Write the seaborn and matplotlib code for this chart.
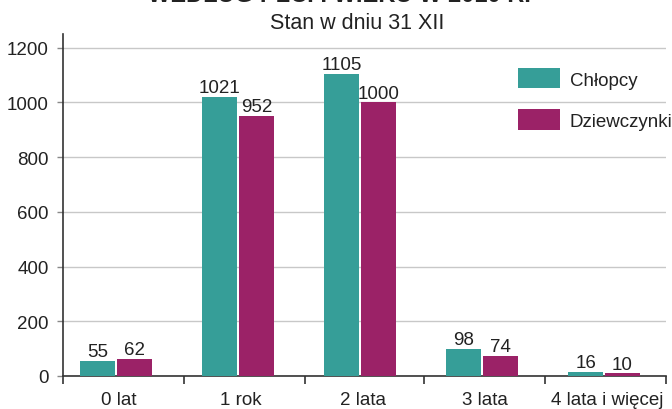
import matplotlib
matplotlib.use("Agg")
import matplotlib.pyplot as plt
import matplotlib.transforms as mtransforms
import seaborn as sns
import pandas as pd
from matplotlib.ticker import FixedLocator

categories = ["0 lat", "1 rok", "2 lata", "3 lata", "4 lata i więcej"]
chlopcy = [55, 1021, 1105, 98, 16]
dziewczynki = [62, 952, 1000, 74, 10]
series_names = ["Chłopcy", "Dziewczynki"]
title = "WEDŁUG PŁCI I WIEKU W 2010 R."
subtitle = "Stan w dniu 31 XII"

teal = "#369E98"
magenta = "#9B2267"

df = pd.DataFrame({
    "wiek": categories * 2,
    "liczba": chlopcy + dziewczynki,
    "plec": [series_names[0]] * len(categories) + [series_names[1]] * len(categories),
})

sns.set_style("white")
plt.rcParams["font.family"] = ["Liberation Sans", "DejaVu Sans"]

W, H = 672, 410
fig = plt.figure(figsize=(W / 100, H / 100), dpi=100)
ax = fig.add_axes([62.7 / W, 1 - 377 / H, (666 - 62.7) / W, (377 - 35) / H])

sns.barplot(data=df, x="wiek", y="liczba", hue="plec", order=categories,
            hue_order=series_names, palette=[teal, magenta], saturation=1,
            width=0.6, gap=0.045, linewidth=0, ax=ax, zorder=3)

for c in ax.containers:
    ax.bar_label(c, fontsize=13.5, padding=0.5, color="#222222")

ax.set_ylim(0, 1250)
ax.set_xlim(-0.437, 4.508)
ax.set_yticks(range(0, 1201, 200))
ax.grid(axis="y", color="#c8c8c8", linewidth=1.0, zorder=0)
ax.set_axisbelow(True)
ax.set_xlabel("")
ax.set_ylabel("")

for s in ["top", "right"]:
    ax.spines[s].set_visible(False)
for s in ["left", "bottom"]:
    ax.spines[s].set_color("#333333")
    ax.spines[s].set_linewidth(1.2)

ax.tick_params(axis="y", which="major", length=4, width=1, color="#888888",
               labelsize=13.5, pad=6, labelcolor="#222222", left=True)
ax.xaxis.set_minor_locator(FixedLocator([-0.437, 0.557, 1.549, 2.525, 3.516, 4.508]))
ax.tick_params(axis="x", which="minor", length=6, width=1.2, color="#333333", bottom=True)
ax.tick_params(axis="x", which="major", length=0, labelsize=13.5, pad=11, labelcolor="#222222")
shift = mtransforms.ScaledTranslation(3 / 100, 0, fig.dpi_scale_trans)
for lbl in ax.get_xticklabels():
    lbl.set_transform(lbl.get_transform() + shift)

handles, labels = ax.get_legend_handles_labels()
if ax.get_legend() is not None:
    ax.get_legend().remove()
leg = fig.legend(handles, labels, loc="upper left",
                 bbox_to_anchor=(518 / W, 1 - 69 / H), frameon=False,
                 fontsize=13.5, handlelength=2.25, handleheight=1.3,
                 labelspacing=1.1, handletextpad=0.5, borderpad=0, borderaxespad=0)
for t in leg.get_texts():
    t.set_color("#222222")

fig.text(339 / W, 1 - 2.5 / H, title, ha="center", va="baseline",
         fontsize=17, fontweight="bold", color="#222222")
fig.text(357 / W, 1 - 29 / H, subtitle, ha="center", va="baseline",
         fontsize=15.5, color="#222222")

fig.savefig("out.png", dpi=100)
